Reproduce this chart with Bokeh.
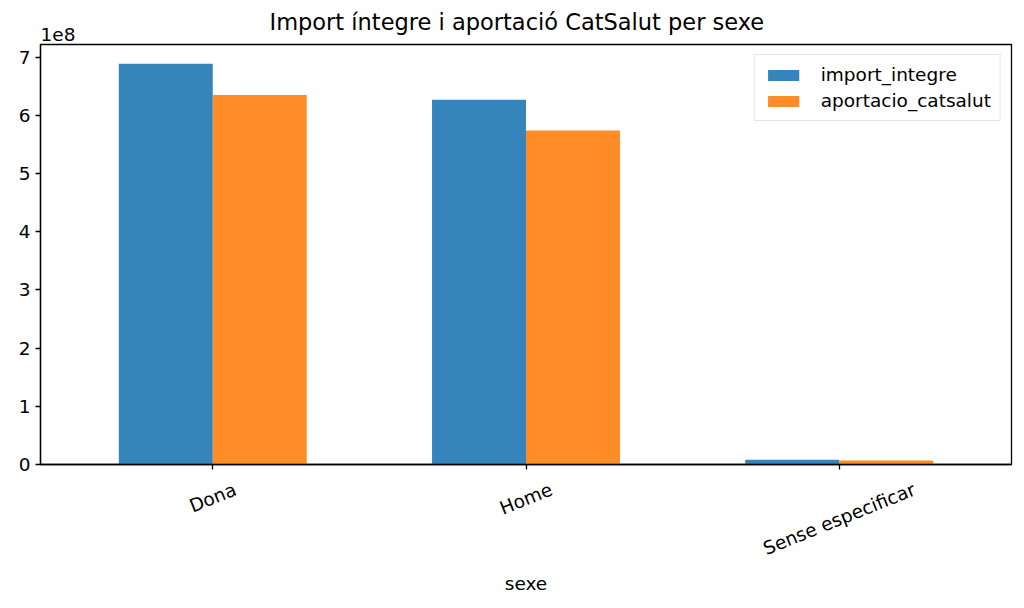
import math
from bokeh.plotting import figure
from bokeh.models import (ColumnDataSource, Range1d, FixedTicker, CustomJSTickFormatter,
                          LinearAxis, Title, Legend, LegendItem)
from bokeh.transform import dodge
from bokeh.embed import file_html
from bokeh.resources import INLINE

categories = ["Dona", "Home", "Sense especificar"]
import_integre = [6.888e8, 6.27e8, 8.0e6]
aportacio_catsalut = [6.354e8, 5.74e8, 7.0e6]
y_ticks = [0, 1e8, 2e8, 3e8, 4e8, 5e8, 6e8, 7e8]

FONT = "DejaVu Sans"
FS = 18.5
ANGLE = math.radians(22)
X0, X1 = -0.55, 2.55
FRAME_W, FRAME_H = 971, 420

# approximate DejaVu Sans advance widths (em), used to centre the rotated tick labels
W = {"D": .770, "H": .752, "S": .635, "o": .612, "n": .634, "a": .613, "m": .974,
     "e": .615, "s": .521, " ": .318, "p": .635, "c": .550, "i": .278, "f": .352, "r": .411}
PX_PER_UNIT = FRAME_W / (X1 - X0)


def label_shift(s):
    w = FS * sum(W.get(ch, .6) for ch in s)
    return round(0.5 * w * math.cos(ANGLE) / PX_PER_UNIT, 4)


src = ColumnDataSource(dict(
    x=list(range(len(categories))),
    imp=import_integre,
    apo=aportacio_catsalut,
))

p = figure(frame_width=FRAME_W, frame_height=FRAME_H, output_backend="svg", toolbar_location=None,
           x_range=Range1d(X0, X1), y_range=Range1d(0, 7.22e8), title=None,
           min_border_left=40, min_border_right=13, min_border_top=44, min_border_bottom=144)

r1 = p.vbar(x=dodge("x", -0.15), top="imp", width=0.3, source=src,
            fill_color="#1f77b4", fill_alpha=0.9, line_color=None)
r2 = p.vbar(x=dodge("x", 0.15), top="apo", width=0.3, source=src,
            fill_color="#ff7f0e", fill_alpha=0.9, line_color=None)

# "1e8" offset text (closest to frame) and main title (overlapping band above)
p.add_layout(Title(text="1e8", align="left", text_font=FONT, text_font_size=f"{FS}px",
                   text_font_style="normal", text_color="black", standoff=7, offset=0), "above")
p.add_layout(Title(text="Import íntegre i aportació CatSalut per sexe", align="left",
                   text_font=FONT, text_font_size="22.5px", text_font_style="normal",
                   text_color="black", standoff=-25, offset=229), "above")

p.xgrid.visible = False
p.ygrid.visible = False
p.outline_line_color = "black"
p.outline_line_width = 1.3

for ax in (p.xaxis[0], p.yaxis[0]):
    ax.axis_line_color = "black"
    ax.axis_line_width = 1.3
    ax.major_tick_line_color = "black"
    ax.major_tick_line_width = 1.3
    ax.major_tick_out = 5
    ax.major_tick_in = 0
    ax.minor_tick_line_color = None
    ax.major_label_text_font = FONT
    ax.major_label_text_font_size = f"{FS}px"
    ax.major_label_text_color = "black"

# main x axis: tick marks only
p.xaxis.ticker = FixedTicker(ticks=list(range(len(categories))))
p.xaxis.major_label_overrides = {i: "" for i in range(len(categories))}
p.xaxis.major_label_standoff = 0

# second x axis: rotated category labels, centred under their ticks
shifted = [i + label_shift(c) for i, c in enumerate(categories)]
lab_ax = LinearAxis(ticker=FixedTicker(ticks=shifted),
                    major_label_overrides={t: c for t, c in zip(shifted, categories)},
                    major_label_orientation=ANGLE, major_label_standoff=19,
                    major_tick_out=0, major_tick_in=0, minor_tick_line_color=None,
                    major_tick_line_color=None, axis_line_color=None,
                    major_label_text_font=FONT, major_label_text_font_size=f"{FS}px",
                    major_label_text_color="black",
                    axis_label="sexe", axis_label_text_font=FONT,
                    axis_label_text_font_size=f"{FS}px", axis_label_text_font_style="normal",
                    axis_label_text_color="black", axis_label_standoff=1)
p.add_layout(lab_ax, "below")

p.yaxis.ticker = FixedTicker(ticks=y_ticks)
p.yaxis.formatter = CustomJSTickFormatter(code="return (tick/1e8).toFixed(0);")

legend = Legend(items=[LegendItem(label="import_integre", renderers=[r1]),
                       LegendItem(label="aportacio_catsalut", renderers=[r2])],
                location="top_right")
legend.label_text_font = FONT
legend.label_text_font_size = f"{FS}px"
legend.label_text_color = "black"
legend.glyph_width = 39
legend.glyph_height = 14
legend.spacing = 5
legend.padding = 9
legend.margin = 10
legend.border_line_color = "#cccccc"
legend.border_line_width = 1
legend.label_standoff = 18
p.add_layout(legend)

open("out.html", "w").write(file_html(p, INLINE))
